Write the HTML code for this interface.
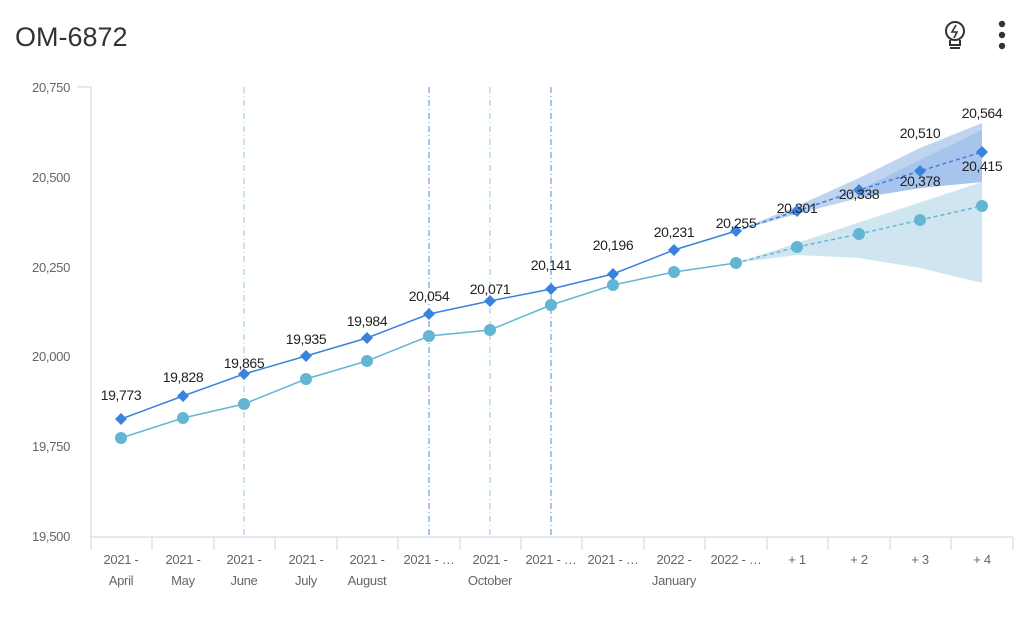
<!DOCTYPE html>
<html><head><meta charset="utf-8"><style>
body{margin:0;background:#fff;font-family:"Liberation Sans",sans-serif;}
</style></head><body>
<svg width="1017" height="613" xmlns="http://www.w3.org/2000/svg" font-family="Liberation Sans, sans-serif">
<text x="15" y="46" font-size="27" fill="#333">OM-6872</text>
<g stroke="#333" stroke-width="2" fill="none">
<circle cx="955" cy="31" r="9"/>
<path d="M950 40 v5 h10 v-5"/>
<path d="M956 25 l-4 7 h5 l-3 6" stroke-width="1.6"/>
</g>
<line x1="950" y1="48" x2="960" y2="48" stroke="#333" stroke-width="2"/>
<circle cx="1002" cy="24" r="3.2" fill="#333"/><circle cx="1002" cy="35" r="3.2" fill="#333"/><circle cx="1002" cy="46" r="3.2" fill="#333"/>
<g font-size="13" fill="#666" text-anchor="end" letter-spacing="-0.3">
<text x="70" y="92">20,750</text><text x="70" y="182">20,500</text><text x="70" y="272">20,250</text>
<text x="70" y="361">20,000</text><text x="70" y="451">19,750</text><text x="70" y="541">19,500</text>
</g>
<path d="M77 87 H91 V537 H1013" stroke="#c8d3ea" fill="none"/>
<g stroke="#c8d3ea">
<line x1="91" y1="537" x2="91" y2="550"/><line x1="152" y1="537" x2="152" y2="550"/><line x1="214" y1="537" x2="214" y2="550"/><line x1="275" y1="537" x2="275" y2="550"/><line x1="337" y1="537" x2="337" y2="550"/><line x1="398" y1="537" x2="398" y2="550"/><line x1="460" y1="537" x2="460" y2="550"/><line x1="521" y1="537" x2="521" y2="550"/><line x1="582" y1="537" x2="582" y2="550"/><line x1="644" y1="537" x2="644" y2="550"/><line x1="705" y1="537" x2="705" y2="550"/><line x1="767" y1="537" x2="767" y2="550"/><line x1="828" y1="537" x2="828" y2="550"/><line x1="890" y1="537" x2="890" y2="550"/><line x1="951" y1="537" x2="951" y2="550"/><line x1="1013" y1="537" x2="1013" y2="550"/>
</g>
<g font-size="13" fill="#666" text-anchor="middle" letter-spacing="-0.3">
<text x="121" y="564">2021 -</text><text x="121" y="585">April</text>
<text x="183" y="564">2021 -</text><text x="183" y="585">May</text>
<text x="244" y="564">2021 -</text><text x="244" y="585">June</text>
<text x="306" y="564">2021 -</text><text x="306" y="585">July</text>
<text x="367" y="564">2021 -</text><text x="367" y="585">August</text>
<text x="429" y="564">2021 - …</text>
<text x="490" y="564">2021 -</text><text x="490" y="585">October</text>
<text x="551" y="564">2021 - …</text>
<text x="613" y="564">2021 - …</text>
<text x="674" y="564">2022 -</text><text x="674" y="585">January</text>
<text x="736" y="564">2022 - …</text>
<text x="797" y="564">+ 1</text><text x="859" y="564">+ 2</text><text x="920" y="564">+ 3</text><text x="982" y="564">+ 4</text>
</g>
<g stroke-dasharray="6,3,1,3" stroke-width="1">
<line x1="244" y1="87" x2="244" y2="537" stroke="#8fc8e0"/>
<line x1="429" y1="87" x2="429" y2="537" stroke="#4a8fdc"/>
<line x1="490" y1="87" x2="490" y2="537" stroke="#8fc8e0"/>
<line x1="551" y1="87" x2="551" y2="537" stroke="#4a8fdc"/>
</g>
<!-- bands -->
<path d="M736 263 L982 182 L982 283 L920 268 L859 258 L797 255 Z" fill="#cfe6f1"/>
<path d="M736 231 L797 206 L859 178 L920 148 L982 123 L982 182 L920 188 L859 198 L797 214 Z" fill="#bed4ef"/>
<path d="M859 190 L920 160 L982 130 L982 182 L920 188 L859 198 Z" fill="#a6c4ec"/>
<polyline points="121,438 183,418 244,404 306,379 367,361 429,336 490,330 551,305 613,285 674,272 736,263" fill="none" stroke="#62b6d3" stroke-width="1.5"/>
<polyline points="736,263 797,247 859,234 920,220 982,206" fill="none" stroke="#62b6d3" stroke-width="1.5" stroke-dasharray="4,3"/>
<polyline points="121,419 183,396 244,374 306,356 367,338 429,314 490,301 551,289 613,274 674,250 736,231" fill="none" stroke="#3b82dc" stroke-width="1.5"/>
<polyline points="736,231 797,211 859,190 920,171 982,152" fill="none" stroke="#3b82dc" stroke-width="1.5" stroke-dasharray="4,3"/>
<g fill="#62b6d3">
<circle cx="121" cy="438" r="6"/><circle cx="183" cy="418" r="6"/><circle cx="244" cy="404" r="6"/><circle cx="306" cy="379" r="6"/><circle cx="367" cy="361" r="6"/><circle cx="429" cy="336" r="6"/><circle cx="490" cy="330" r="6"/><circle cx="551" cy="305" r="6"/><circle cx="613" cy="285" r="6"/><circle cx="674" cy="272" r="6"/><circle cx="736" cy="263" r="6"/><circle cx="797" cy="247" r="6"/><circle cx="859" cy="234" r="6"/><circle cx="920" cy="220" r="6"/><circle cx="982" cy="206" r="6"/>
</g>
<g fill="#3b82dc">
<path d="M121 413 l6 6 l-6 6 l-6 -6z"/><path d="M183 390 l6 6 l-6 6 l-6 -6z"/><path d="M244 368 l6 6 l-6 6 l-6 -6z"/><path d="M306 350 l6 6 l-6 6 l-6 -6z"/><path d="M367 332 l6 6 l-6 6 l-6 -6z"/><path d="M429 308 l6 6 l-6 6 l-6 -6z"/><path d="M490 295 l6 6 l-6 6 l-6 -6z"/><path d="M551 283 l6 6 l-6 6 l-6 -6z"/><path d="M613 268 l6 6 l-6 6 l-6 -6z"/><path d="M674 244 l6 6 l-6 6 l-6 -6z"/><path d="M736 225 l6 6 l-6 6 l-6 -6z"/><path d="M797 205 l6 6 l-6 6 l-6 -6z"/><path d="M859 184 l6 6 l-6 6 l-6 -6z"/><path d="M920 165 l6 6 l-6 6 l-6 -6z"/><path d="M982 146 l6 6 l-6 6 l-6 -6z"/>
</g>
<g font-size="14" fill="#222" text-anchor="middle" letter-spacing="-0.4">
<text x="121" y="400">19,773</text><text x="183" y="382">19,828</text><text x="244" y="368">19,865</text><text x="306" y="344">19,935</text><text x="367" y="326">19,984</text><text x="429" y="301">20,054</text><text x="490" y="294">20,071</text><text x="551" y="270">20,141</text><text x="613" y="250">20,196</text><text x="674" y="237">20,231</text><text x="736" y="228">20,255</text><text x="797" y="213">20,301</text><text x="859" y="199">20,338</text><text x="920" y="186">20,378</text><text x="920" y="138">20,510</text><text x="982" y="118">20,564</text><text x="982" y="171">20,415</text>
</g>
</svg>
</body></html>
